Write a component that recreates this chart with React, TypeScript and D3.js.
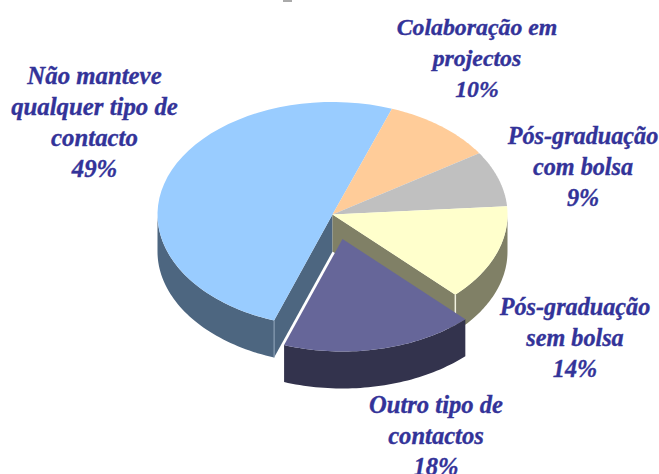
import React from "react";
import * as d3 from "d3";

const categories = ["Não manteve qualquer tipo de contacto", "Colaboração em projectos", "Pós-graduação com bolsa", "Pós-graduação sem bolsa", "Outro tipo de contactos"];
const percentLabels = ["49%", "10%", "9%", "14%", "18%"];
// slice shares
const shares = [50.1, 10.3, 8, 13.8, 17.8];
const topColors = ["#99ccff", "#ffcc99", "#c0c0c0", "#ffffcc", "#666699"];
const wallColors = ["#4d6680", "#806650", "#606060", "#808066", "#33334d"];
const labelLines = [
  ["Não manteve", "qualquer tipo de", "contacto"],
  ["Colaboração em", "projectos"],
  ["Pós-graduação", "com bolsa"],
  ["Pós-graduação", "sem bolsa"],
  ["Outro tipo de", "contactos"],
];
const labelCenters = [[94.5, 84], [477, 34.5], [583, 144], [575, 315], [436, 413]];
const labelSizes = [24.8, 23.8, 24.2, 24.2, 24.6];

const W = 659, H = 474;
const cx = 332.5, cy = 214.5, rx = 175, ry = 112.5, depth = 37;
const explode = [10, 24.5];
const startDeg = 199.5;
const rad = (d: number) => (d * Math.PI) / 180;
const pt = (a: number, ox = 0, oy = 0): [number, number] => [cx + ox + rx * Math.sin(a), cy + oy - ry * Math.cos(a)];

const arcs = d3.pie<number>().sort(null).startAngle(rad(startDeg)).endAngle(rad(startDeg + 360))(shares);

function arcPts(a0: number, a1: number, ox = 0, oy = 0) {
  const n = 48;
  return d3.range(n + 1).map((i) => pt(a0 + ((a1 - a0) * i) / n, ox, oy));
}
const line = d3.line();
function topPath(a0: number, a1: number, ox = 0, oy = 0) {
  return line([[cx + ox, cy + oy], ...arcPts(a0, a1, ox, oy)])! + "Z";
}
function outerWall(a0: number, a1: number, ox = 0, oy = 0) {
  const up = arcPts(a0, a1, ox, oy);
  const down = up.map(([x, y]) => [x, y + depth] as [number, number]).reverse();
  return line([...up, ...down])! + "Z";
}
function radialWall(a: number) {
  const p = pt(a);
  return line([[cx, cy], p, [p[0], p[1] + depth], [cx, cy + depth]])! + "Z";
}

export default function App() {
  const [blue, peach, grey, yellow, purple] = arcs;
  const [ex, ey] = explode;
  const blueEnd = blue.startAngle;
  const yellowEnd = yellow.endAngle;
  const pB = pt(blueEnd), pY = pt(yellowEnd);
  return (
    <svg width={W} height={H} style={{ position: "absolute", left: 0, top: 0, background: "#fff" }}>
      <rect x={283} y={0} width={9} height={2} fill="#aaa" />
      {/* blue walls */}
      <path d={outerWall(rad(270), blueEnd)} fill={wallColors[0]} />
      <path d={radialWall(blueEnd)} fill={wallColors[0]} />
      <line x1={pB[0]} y1={pB[1]} x2={pB[0]} y2={pB[1] + depth} stroke="#93a8bd" strokeWidth={1} />
      {/* yellow walls */}
      <path d={outerWall(rad(450), yellowEnd)} fill={wallColors[3]} />
      <path d={radialWall(yellowEnd)} fill={wallColors[3]} />
      <line x1={pY[0]} y1={pY[1]} x2={pY[0]} y2={pY[1] + depth} stroke="#f2f2e0" strokeWidth={1.5} />
      {/* tops */}
      {[blue, peach, grey, yellow].map((a, i) => (
        <path key={categories[i]} d={topPath(a.startAngle, a.endAngle)} fill={topColors[i]} />
      ))}
      {/* exploded slice */}
      <path d={outerWall(purple.startAngle, purple.endAngle, ex, ey)} fill={wallColors[4]} />
      <path d={topPath(purple.startAngle, purple.endAngle, ex, ey)} fill={topColors[4]} />
      {labelLines.map((lines, i) => (
        <text
          key={i}
          x={labelCenters[i][0]}
          textAnchor="middle"
          fontFamily="'Liberation Serif', serif"
          fontWeight="bold"
          fontStyle="italic"
          fontSize={labelSizes[i]}
          fill="#333399"
          stroke="#333399"
          strokeWidth={0.35}
        >
          {[...lines, percentLabels[i]].map((t, j) => (
            <tspan key={j} x={labelCenters[i][0]} y={labelCenters[i][1] + j * 31}>{t}</tspan>
          ))}
        </text>
      ))}
    </svg>
  );
}
